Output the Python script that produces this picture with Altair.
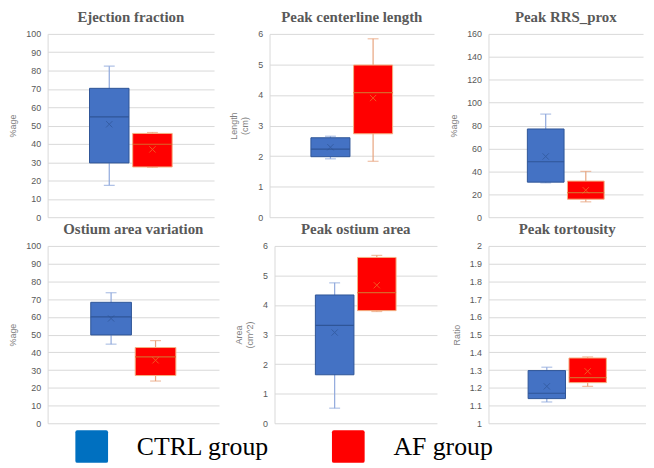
import altair as alt
import pandas as pd

panels = ["Ejection fraction", "Peak centerline length", "Peak RRS_prox",
          "Ostium area variation", "Peak ostium area", "Peak tortousity"]
groups = ["CTRL group", "AF group"]

ctrl_min = [17.4, 1.91, 30.0, 44.6, 0.51, 1.120]
ctrl_q1 = [29.6, 1.98, 30.6, 49.8, 1.64, 1.139]
ctrl_median = [54.7, 2.23, 48.4, 60.0, 3.31, 1.169]
ctrl_q3 = [70.3, 2.60, 77.0, 68.2, 4.34, 1.297]
ctrl_max = [82.4, 2.65, 90.0, 73.6, 4.75, 1.316]
ctrl_mean = [50.7, 2.29, 53.0, 59.1, 3.07, 1.208]

af_min = [27.2, 1.83, 13.4, 23.8, 3.78, 1.208]
af_q1 = [27.4, 2.73, 15.7, 26.9, 3.81, 1.229]
af_median = [39.8, 4.08, 21.5, 37.4, 4.42, 1.257]
af_q3 = [45.7, 4.98, 31.5, 42.7, 5.61, 1.368]
af_max = [46.2, 5.84, 40.0, 46.6, 5.68, 1.374]
af_mean = [37.0, 3.90, 23.5, 35.5, 4.67, 1.293]

y_titles = [["%age"], ["Length", "(cm)"], ["%age"],
            ["%age"], ["Area", "(cm^2)"], ["Ratio"]]
y_domains = [[0, 100], [0, 6], [0, 160], [0, 100], [0, 6], [1, 2]]
y_ticks = [
    [0, 10, 20, 30, 40, 50, 60, 70, 80, 90, 100],
    [0, 1, 2, 3, 4, 5, 6],
    [0, 20, 40, 60, 80, 100, 120, 140, 160],
    [0, 10, 20, 30, 40, 50, 60, 70, 80, 90, 100],
    [0, 1, 2, 3, 4, 5, 6],
    [1.0, 1.1, 1.2, 1.3, 1.4, 1.5, 1.6, 1.7, 1.8, 1.9, 2.0],
]

rows = []
for i, p in enumerate(panels):
    rows.append(dict(panel=p, group=groups[0], min=ctrl_min[i], q1=ctrl_q1[i],
                     median=ctrl_median[i], q3=ctrl_q3[i], max=ctrl_max[i], mean=ctrl_mean[i]))
    rows.append(dict(panel=p, group=groups[1], min=af_min[i], q1=af_q1[i],
                     median=af_median[i], q3=af_q3[i], max=af_max[i], mean=af_mean[i]))
df = pd.DataFrame(rows)

is_ctrl = alt.datum.group == "CTRL group"
SERIF = "Times New Roman, Liberation Serif, serif"


def cond(a, b):
    return alt.condition(is_ctrl, alt.value(a), alt.value(b))


def panel(i, w, h):
    d = df[df.panel == panels[i]]
    x = alt.X("group:N", sort=groups,
              scale=alt.Scale(domain=groups, paddingInner=0.085, paddingOuter=0.97),
              axis=None)
    fmt = ".1~f" if i == 5 else "d"
    yaxis = alt.Axis(values=y_ticks[i], title=y_titles[i], format=fmt)
    ysc = alt.Scale(domain=y_domains[i], nice=False, zero=False)
    base = alt.Chart(d).encode(x=x)
    whisk = base.mark_rule(strokeWidth=1.2).encode(
        y=alt.Y("min:Q", scale=ysc, axis=yaxis), y2="max:Q",
        stroke=cond("#8FA8DC", "#E8A47E"))
    cap_lo = base.mark_tick(size=11, thickness=1.2).encode(
        y=alt.Y("min:Q", scale=ysc, axis=yaxis),
        color=cond("#8FA8DC", "#E8A47E"))
    cap_hi = base.mark_tick(size=11, thickness=1.2).encode(
        y=alt.Y("max:Q", scale=ysc, axis=yaxis),
        color=cond("#8FA8DC", "#E8A47E"))
    box = base.mark_bar(strokeWidth=1, opacity=1).encode(
        y=alt.Y("q1:Q", scale=ysc, axis=yaxis), y2="q3:Q",
        fill=alt.Fill("group:N", sort=groups,
                      scale=alt.Scale(domain=groups, range=["#4472C4", "#FF0000"]),
                      legend=None),
        stroke=cond("#2F5597", "#F4B183"))
    med = base.mark_bar(filled=False, strokeWidth=1.2).encode(
        y=alt.Y("median:Q", scale=ysc, axis=yaxis), y2="median:Q",
        stroke=cond("#2F5597", "#D9652A"))
    mean = base.mark_point(shape="M-1,-1L1,1M-1,1L1,-1", size=40, filled=False,
                           strokeWidth=1).encode(
        y=alt.Y("mean:Q", scale=ysc, axis=yaxis),
        stroke=cond("#2F5597", "#ED7D31"))
    return alt.layer(whisk, cap_lo, cap_hi, box, med, mean).properties(
        width=w, height=h, title=panels[i])


row1 = alt.hconcat(panel(0, 168, 185), panel(1, 166, 185), panel(2, 156, 185), spacing=15)
row2 = alt.hconcat(panel(3, 173, 179), panel(4, 164, 179), panel(5, 159, 179), spacing=15)

# legend row
leg_df = pd.DataFrame({"group": groups})
leg_x = alt.X("group:N", sort=groups, axis=None, bandPosition=0,
              scale=alt.Scale(domain=groups, paddingInner=0, paddingOuter=0, align=0))
rounded = ("M-0.88,-1H0.88Q1,-1 1,-0.88V0.88Q1,1 0.88,1H-0.88Q-1,1 -1,0.88"
           "V-0.88Q-1,-1 -0.88,-1Z")
leg_sq = alt.Chart(leg_df).mark_point(
    shape=rounded, size=1089, filled=True, opacity=1, strokeWidth=0, xOffset=44.5
).encode(
    x=leg_x,
    color=alt.Color("group:N", sort=groups, legend=None,
                    scale=alt.Scale(domain=groups, range=["#0070C0", "#FF0000"])))
leg_tx = alt.Chart(leg_df).mark_text(
    align="left", baseline="middle", font=SERIF, fontSize=26,
    color="#000000", dx=90, dy=1
).encode(x=leg_x, text="group:N")
legend_row = alt.layer(leg_sq, leg_tx).properties(width=518, height=33)

chart = alt.vconcat(
    alt.vconcat(row1, row2, spacing=0), legend_row, spacing=2
).properties(padding=0).configure_view(
    stroke=None
).configure_axis(
    grid=True, gridColor="#D9D9D9", domainColor="#D9D9D9", ticks=False,
    labelFont="Liberation Sans", labelFontSize=9, labelColor="#595959", labelPadding=7,
    titleFont="Liberation Sans", titleFontSize=9, titleColor="#7F7F7F",
    titleFontWeight="normal", titlePadding=8
).configure_title(
    font=SERIF, fontSize=15, fontWeight="bold", color="#595959", offset=5
)

chart.save("out.html", embed_options={"renderer": "svg", "actions": False})
